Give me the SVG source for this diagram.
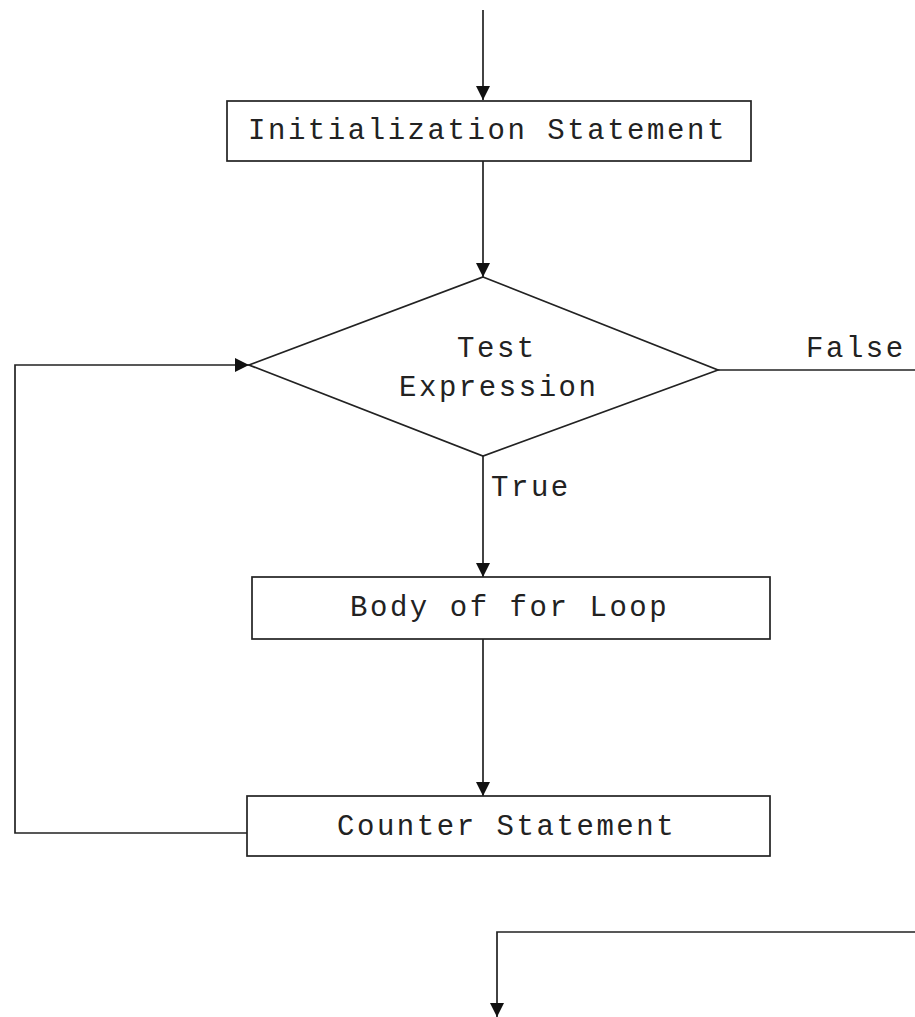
<svg xmlns="http://www.w3.org/2000/svg" width="915" height="1017" viewBox="0 0 915 1017">
<style>
.box{fill:#fff;stroke:#222;stroke-width:1.7}
.ln{fill:none;stroke:#222;stroke-width:1.7}
.t{font-family:"Liberation Mono","Courier New",monospace;font-size:29px;letter-spacing:2.55px;fill:#222}
</style>
<defs>
<marker id="ah" viewBox="0 0 14 14" refX="14" refY="7" markerWidth="14" markerHeight="14" markerUnits="userSpaceOnUse" orient="auto">
<path d="M0,0 L14,7 L0,14 Z" fill="#111"/>
</marker>
</defs>
<rect width="915" height="1017" fill="#fff"/>
<g id="connectors">
<line class="ln" x1="483" y1="10" x2="483" y2="100" marker-end="url(#ah)"/>
<line class="ln" x1="483" y1="161" x2="483" y2="277" marker-end="url(#ah)"/>
<line class="ln" x1="483" y1="456" x2="483" y2="577" marker-end="url(#ah)"/>
<line class="ln" x1="483" y1="639" x2="483" y2="796" marker-end="url(#ah)"/>
<polyline class="ln" points="247,833 15,833 15,365 249,365" marker-end="url(#ah)"/>
<line class="ln" x1="718" y1="370" x2="915" y2="370"/>
<polyline class="ln" points="915,932 497,932 497,1017" marker-end="url(#ah)"/>
<text class="t" x="491" y="496">True</text>
<text class="t" x="806" y="357">False</text>
</g>
<g id="init">
<rect class="box" x="227" y="101" width="524" height="60"/>
<text class="t" x="248" y="139">Initialization Statement</text>
</g>
<g id="test">
<polygon class="box" points="483,277 718,370 483,456 249,365"/>
<text class="t" x="457" y="357">Test</text>
<text class="t" x="399" y="396">Expression</text>
</g>
<g id="body">
<rect class="box" x="252" y="577" width="518" height="62"/>
<text class="t" x="350" y="616">Body of for Loop</text>
</g>
<g id="counter">
<rect class="box" x="247" y="796" width="523" height="60"/>
<text class="t" x="337" y="835">Counter Statement</text>
</g>
</svg>
